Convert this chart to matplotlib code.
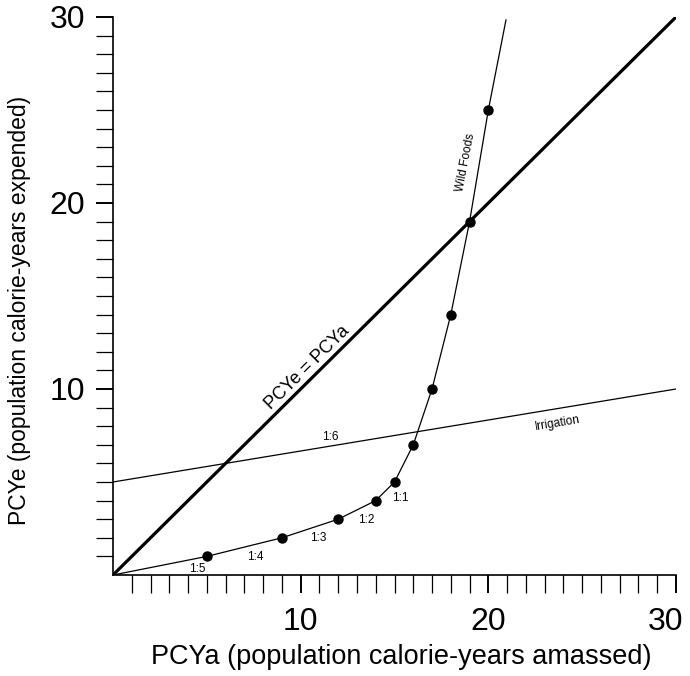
import matplotlib
matplotlib.use("Agg")
import matplotlib.pyplot as plt
from matplotlib.ticker import FixedLocator
from matplotlib.transforms import ScaledTranslation

plt.rcParams['font.family'] = ['Liberation Sans', 'DejaVu Sans']

# --------------------------
# DATA
# --------------------------
wild_x = [0, 5, 9, 12, 14, 15, 16, 17, 18, 19, 20, 20.94]
wild_y = [0, 1, 2, 3, 4, 5, 7, 10, 14, 19, 25, 29.84]
dot_x = [5, 9, 12, 14, 15, 16, 17, 18, 19, 20]
dot_y = [1, 2, 3, 4, 5, 7, 10, 14, 19, 25]

equal_x = [0, 30]
equal_y = [0, 30]

irr_x = [0, 30]
irr_y = [5, 10]

ratio_labels = ["1:5", "1:4", "1:3", "1:2", "1:1", "1:6"]
ratio_x = [4.47, 7.57, 10.92, 13.48, 15.29, 11.56]
ratio_y = [0.32, 0.97, 1.99, 2.96, 4.14, 7.42]

ticks = [10, 20, 30]
minor_ticks = list(range(1, 31))

# --------------------------
# FIGURE
# --------------------------
fig = plt.figure(figsize=(6.9, 6.76), dpi=100)
ax = fig.add_axes([113/690, 101/676, 563/690, 558/676])

ax.plot(equal_x, equal_y, color='black', lw=2.3, solid_capstyle='butt')
ax.plot(irr_x, irr_y, color='black', lw=0.9)
ax.plot(wild_x, wild_y, color='black', lw=0.9)
ax.plot(dot_x, dot_y, 'o', color='black', ms=6.5)

for lab, x, y in zip(ratio_labels, ratio_x, ratio_y):
    ax.text(x, y, lab, fontsize=8.5, ha='center', va='center')

ax.text(10.34, 11.13, "PCYe = PCYa", fontsize=13, rotation=44.7,
        ha='center', va='center', rotation_mode='anchor')
ax.text(23.71, 8.17, "Irrigation", fontsize=8.5, rotation=9.4,
        ha='center', va='center', rotation_mode='anchor')
ax.text(18.8, 22.2, "Wild Foods", fontsize=8.5, rotation=79,
        ha='center', va='center', rotation_mode='anchor')

ax.set_xlim(0, 30)
ax.set_ylim(0, 30)
ax.spines['top'].set_visible(False)
ax.spines['right'].set_visible(False)
ax.spines['left'].set_linewidth(1.2)
ax.spines['bottom'].set_linewidth(1.2)

ax.set_xticks(ticks)
ax.set_yticks(ticks)
ax.xaxis.set_minor_locator(FixedLocator(minor_ticks))
ax.yaxis.set_minor_locator(FixedLocator(minor_ticks))
ax.tick_params(axis='x', which='both', direction='out', length=13, width=0.9,
               labelsize=23, pad=10)
ax.tick_params(axis='y', which='both', direction='out', length=12, width=0.9,
               labelsize=23, pad=8)
ax.tick_params(which='major', width=1.4)

# keep the last x label inside the figure
fig.canvas.draw()
last = ax.get_xticklabels()[-1]
last.set_transform(last.get_transform() + ScaledTranslation(-10/100, 0, fig.dpi_scale_trans))

ax.set_xlabel("PCYa (population calorie-years amassed)", fontsize=19.5)
ax.set_ylabel("PCYe (population calorie-years expended)", fontsize=16.5)
ax.xaxis.set_label_coords(0.512, -0.124)
ax.yaxis.set_label_coords(-0.146, 0.475)

fig.savefig("out.png", dpi=100)
